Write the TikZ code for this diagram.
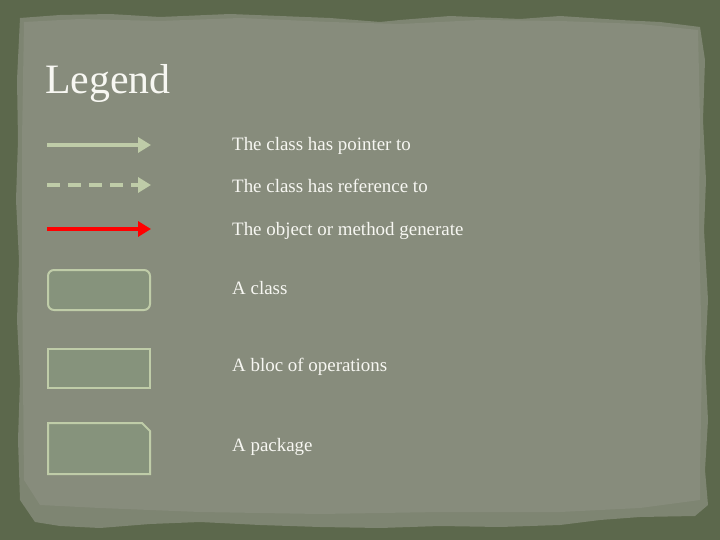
\documentclass[tikz,border=0pt]{standalone}
\usepackage{fontspec}
\setmainfont{Liberation Serif}
\usetikzlibrary{arrows.meta}
\definecolor{frame}{HTML}{5C684C}
\definecolor{paper}{HTML}{878C7C}
\definecolor{paperedge}{HTML}{7E8572}
\definecolor{lgreen}{HTML}{BFCCA8}
\definecolor{boxfill}{HTML}{86937C}
\definecolor{txt}{HTML}{F7F7F2}
\tikzset{
  legarrow/.style={line width=4bp, -{Triangle[length=13bp,width=15bp]}},
  legbox/.style={draw=lgreen, line width=2bp, fill=boxfill},
  legtext/.style={anchor=west, text=txt, font=\fontsize{19}{21}\selectfont, inner sep=0pt},
}
\begin{document}
\begin{tikzpicture}[x=1bp,y=-1bp]
\useasboundingbox (0,0) rectangle (720,540);
\fill[frame] (0,0) rectangle (720,540);
% paper
\fill[paperedge] (20,18) -- (60,15) -- (110,14) -- (160,17) -- (230,14) -- (280,16) -- (330,18) -- (380,22) -- (400,20) -- (450,16) -- (520,19) -- (560,16) -- (620,20) -- (660,22) -- (700,27) -- (705,60) -- (703,120) -- (706,180) -- (704,230) -- (708,300) -- (705,360) -- (708,420) -- (705,470) -- (708,505) -- (695,516) -- (640,517) -- (600,520) -- (560,525) -- (500,527) -- (440,526) -- (380,528) -- (320,527) -- (260,525) -- (200,522) -- (150,524) -- (100,528) -- (60,526) -- (35,522) -- (20,500) -- (18,440) -- (20,380) -- (17,320) -- (19,260) -- (16,200) -- (18,140) -- (17,80) -- cycle;
\fill[paper] (24,22) -- (80,19) -- (160,21) -- (240,18) -- (330,22) -- (400,24) -- (480,20) -- (560,21) -- (640,24) -- (698,30) -- (700,120) -- (699,230) -- (702,360) -- (700,470) -- (700,500) -- (640,508) -- (560,512) -- (440,512) -- (320,514) -- (200,512) -- (100,508) -- (40,505) -- (24,480) -- (23,380) -- (22,260) -- (22,140) -- cycle;
% title
\node[anchor=west, text=txt, font=\fontsize{42}{46}\selectfont, inner sep=0pt] (title) at (45,84) {Legend};
% arrows
\coordinate (a1s) at (47,145); \coordinate (a1e) at (151,145);
\coordinate (a2s) at (47,185); \coordinate (a2e) at (151,185);
\coordinate (a3s) at (47,229); \coordinate (a3e) at (151,229);
\draw[legarrow, lgreen] (a1s) -- (a1e);
\draw[legarrow, lgreen, dash pattern=on 13bp off 8bp] (a2s) -- (a2e);
\draw[legarrow, red] (a3s) -- (a3e);
% boxes
\draw[legbox, rounded corners=6bp] (48,270) rectangle (150,310);
\draw[legbox] (48,349) rectangle (150,388);
\draw[legbox] (48,423) -- (142,423) -- (150,431) -- (150,474) -- (48,474) -- cycle;
% texts
\node[legtext] (t1) at (232,146) {The class has pointer to};
\node[legtext] (t2) at (232,186) {The class has reference to};
\node[legtext] (t3) at (232,231) {The object or method generate};
\node[legtext] (t4) at (232,288) {A class};
\node[legtext] (t5) at (232,367) {A bloc of operations};
\node[legtext] (t6) at (232,447) {A package};
\end{tikzpicture}
\end{document}
